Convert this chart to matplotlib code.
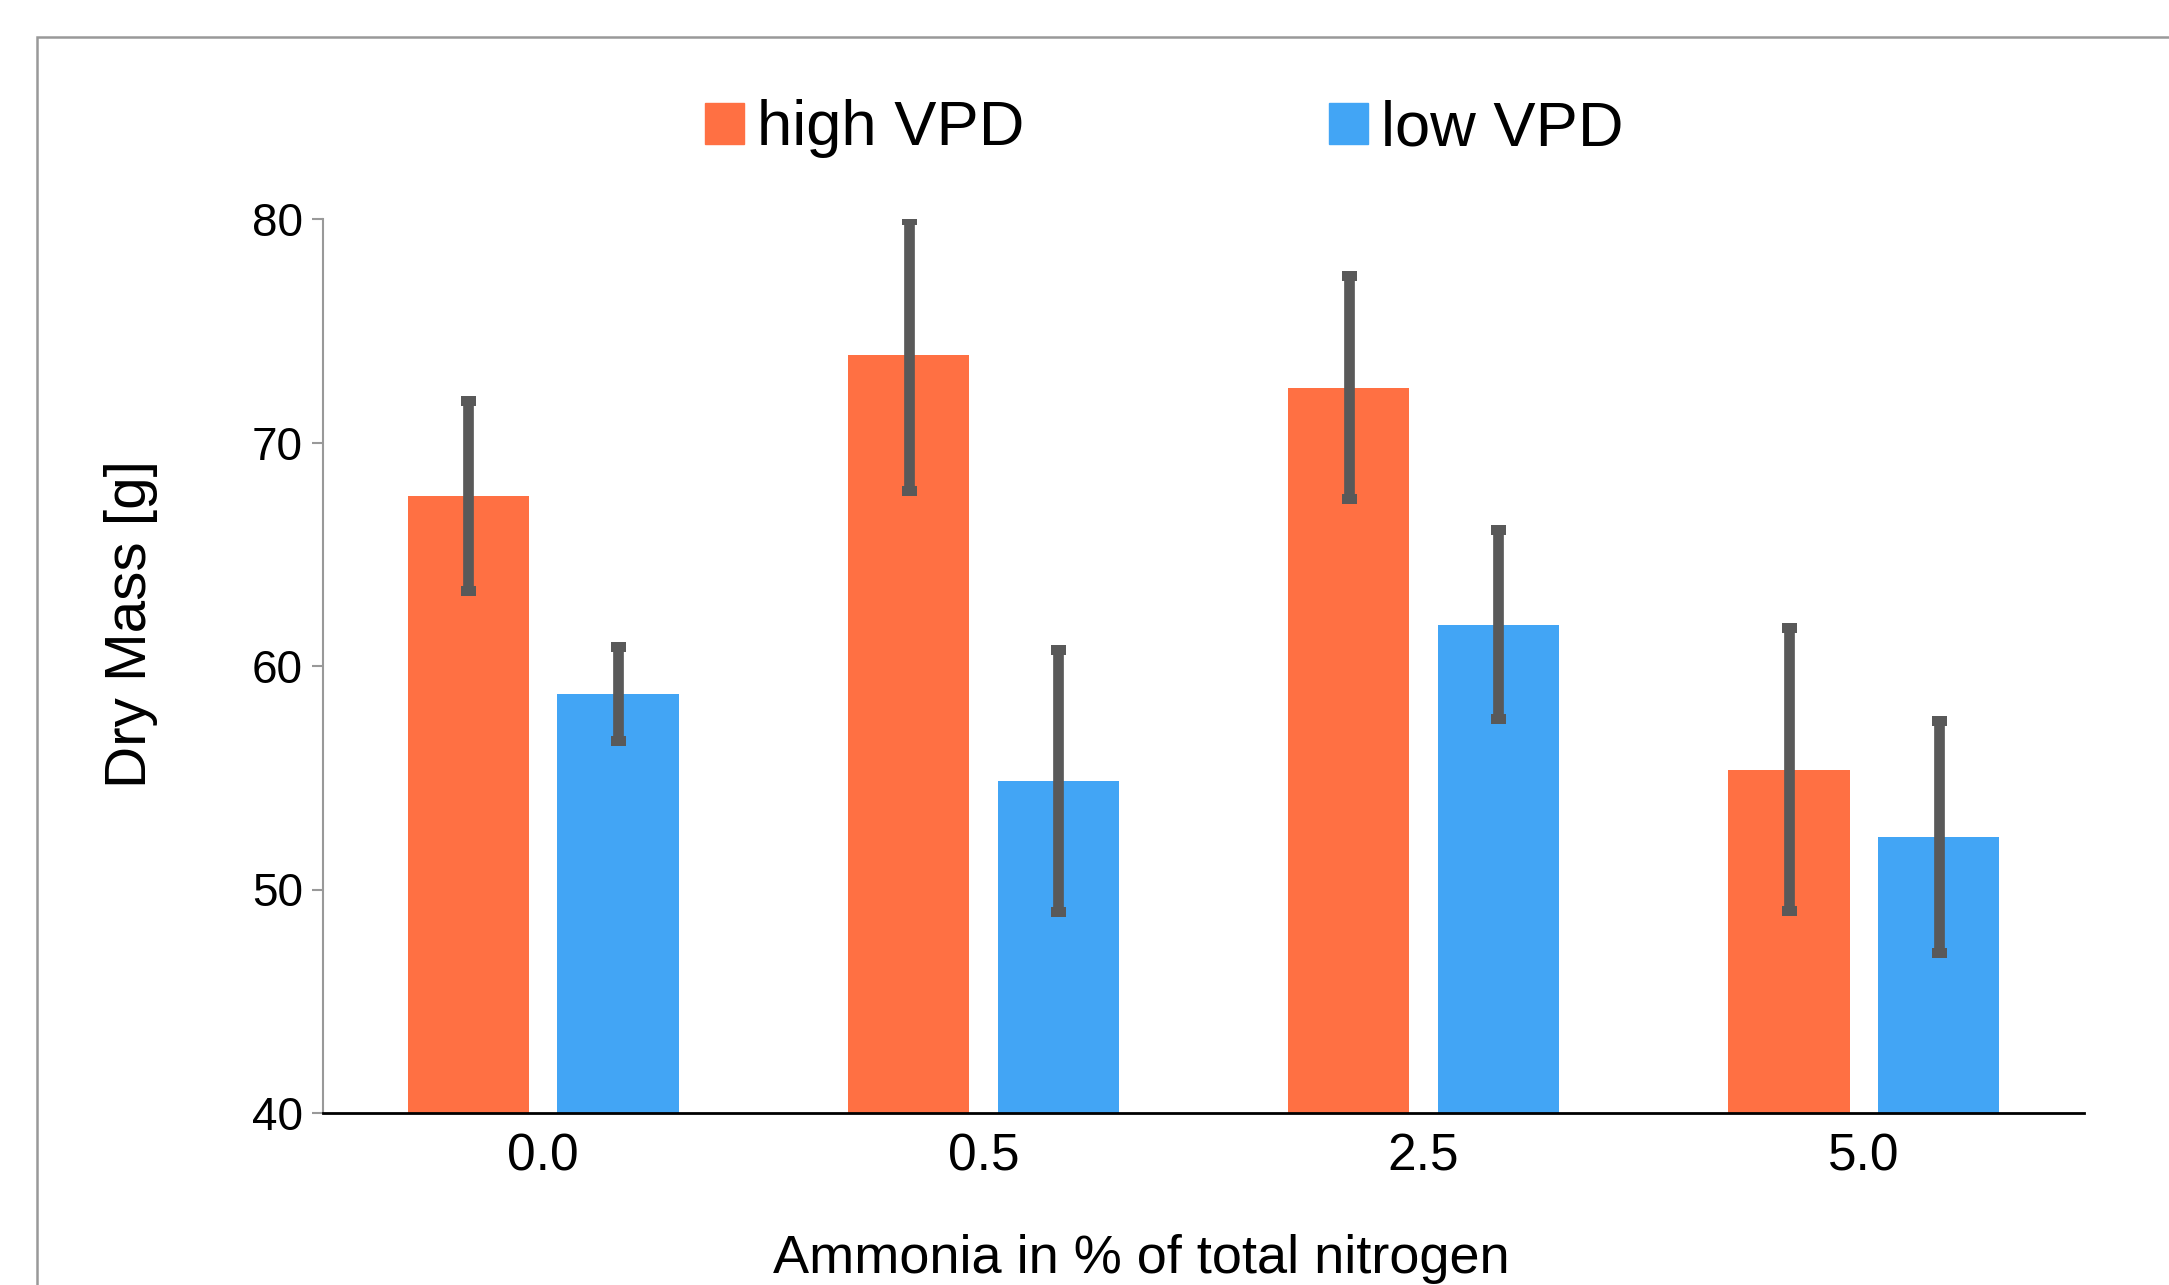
import numpy as np
import matplotlib
matplotlib.use("Agg")
import matplotlib.pyplot as plt
from matplotlib.patches import Rectangle, Patch

plt.rcParams['font.family'] = ['Liberation Sans', 'DejaVu Sans']

# data
categories = ["0.0", "0.5", "2.5", "5.0"]
high_vpd = [67.6, 73.9, 72.45, 55.35]
high_err = [4.25, 6.05, 5.0, 6.33]
low_vpd = [58.75, 54.85, 61.85, 52.35]
low_err = [2.1, 5.86, 4.22, 5.2]

orange = "#FF7043"
blue = "#42A5F5"
err_color = "#595959"

W, H = 2169, 1285
fig = plt.figure(figsize=(W / 100, H / 100), dpi=100)
ax = fig.add_axes([323 / W, 1 - 1113 / H, (2084 - 323) / W, (1113 - 219) / H])

x = np.arange(len(categories)) + 0.5
off = 0.17
bw = 0.275
ekw = dict(ecolor=err_color, elinewidth=7.7, capsize=5.4, capthick=7.2)
ax.bar(x - off, high_vpd, bw, color=orange, yerr=high_err, error_kw=ekw, zorder=2)
ax.bar(x + off, low_vpd, bw, color=blue, yerr=low_err, error_kw=ekw, zorder=2)

ax.set_xlim(0, len(categories))
ax.set_ylim(40, 80)
ax.set_yticks([40, 50, 60, 70, 80])
ax.set_xticks(x)
ax.set_xticklabels(categories)
ax.tick_params(axis='x', length=0, labelsize=37, pad=14)
ax.tick_params(axis='y', length=8, width=1.5, color="#999999", labelsize=33, pad=6.5)

for s in ['top', 'right']:
    ax.spines[s].set_visible(False)
ax.spines['left'].set_color("#999999")
ax.spines['left'].set_linewidth(1.5)
ax.spines['bottom'].set_color("black")
ax.spines['bottom'].set_linewidth(2)
ax.spines['bottom'].set_zorder(3)

fig.text(131 / W, 1 - 624 / H, "Dry Mass [g]", rotation=90, fontsize=42,
         ha='center', va='center')
fig.text(1141 / W, 1 - 1259 / H, "Ammonia in % of total nitrogen", fontsize=39,
         ha='center', va='center')

handles = [Patch(color=orange, label="high VPD"), Patch(color=blue, label="low VPD")]
fig.legend(handles=handles, loc='center left', bbox_to_anchor=(705 / W, 1 - 129 / H),
           ncol=2, frameon=False, fontsize=45.5, handlelength=0.62, handleheight=0.62,
           handletextpad=0.2, columnspacing=4.82, borderpad=0, borderaxespad=0)

# outer border, cut off at the right and bottom
fig.add_artist(Rectangle((37 / W, -0.2), 1.2, 1.2 - 37 / H, transform=fig.transFigure,
                         fill=False, edgecolor="#999999", linewidth=1.8))

fig.savefig("out.png", dpi=100, facecolor="white")
